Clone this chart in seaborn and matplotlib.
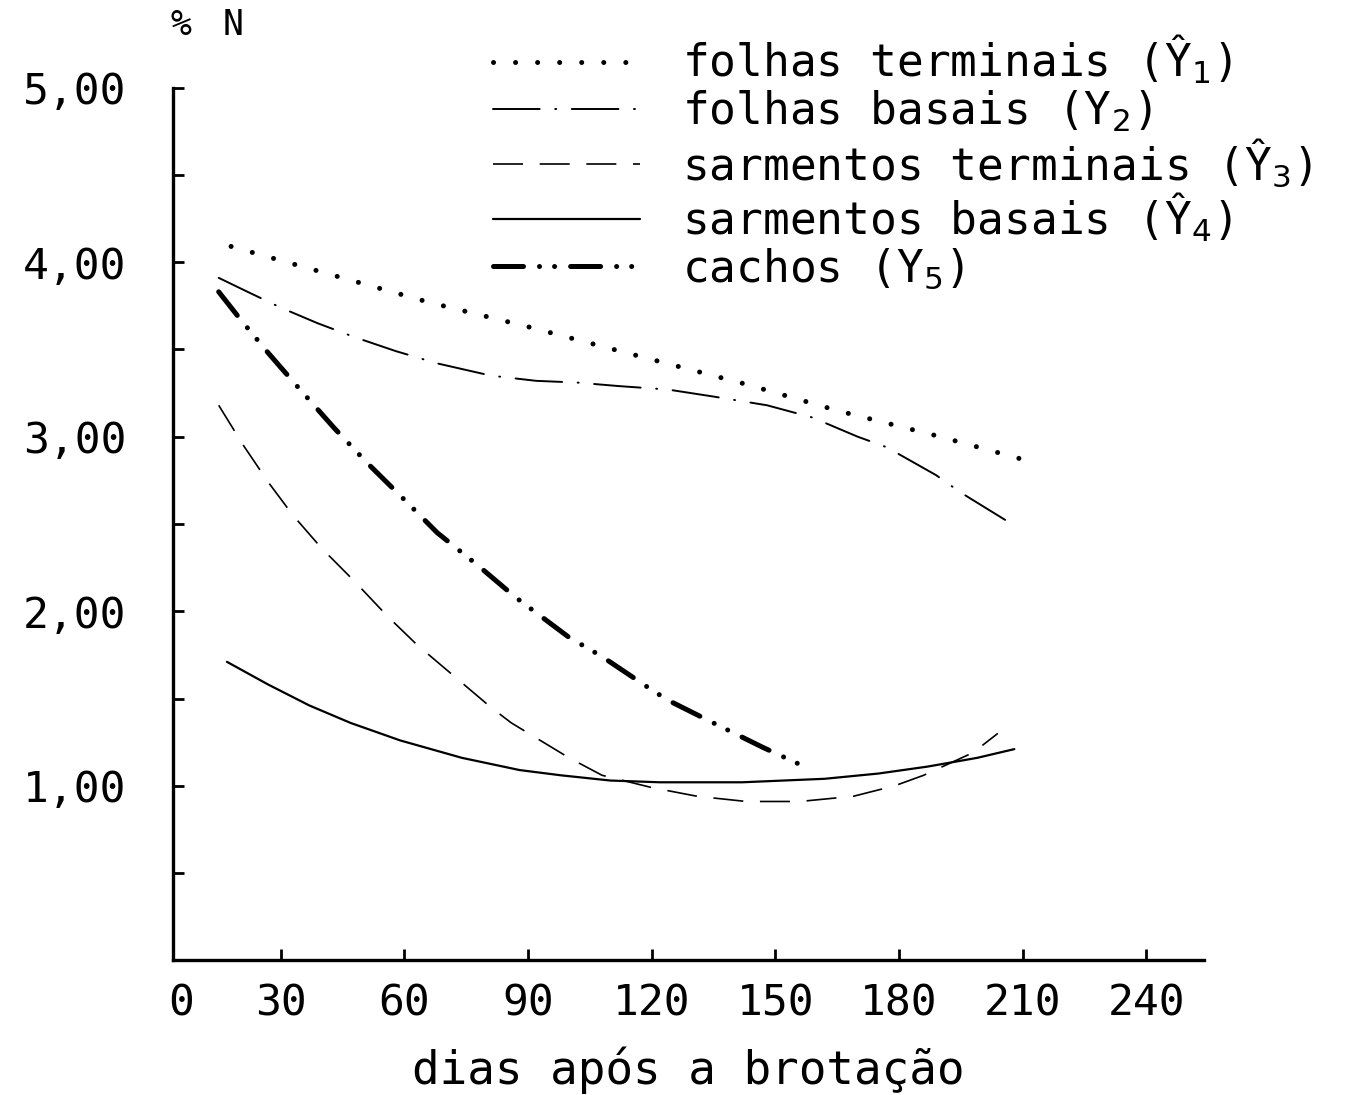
import matplotlib

matplotlib.use("Agg")

import matplotlib.pyplot as plt  # noqa: E402
import matplotlib.transforms as mtransforms  # noqa: E402
import pandas as pd  # noqa: E402
import seaborn as sns  # noqa: E402

# curve readings (dias, % N)
y1_dias = [18, 42, 66, 90, 114, 143, 165, 190, 210]
y1_n = [4.09, 3.93, 3.77, 3.63, 3.48, 3.30, 3.15, 3.00, 2.87]

y2_dias = [15, 22, 30, 39, 48, 58, 68, 81, 92, 102, 112, 124, 135, 148,
           159, 170, 177, 189, 195, 206]
y2_n = [3.91, 3.83, 3.74, 3.65, 3.57, 3.49, 3.42, 3.35, 3.32, 3.31, 3.29,
        3.27, 3.23, 3.18, 3.11, 3.00, 2.94, 2.78, 2.68, 2.52]

y3_dias = [15, 21, 27, 33, 40, 48, 56, 63, 72, 81, 86, 93, 100, 108, 120,
           131, 143, 156, 169, 179, 186, 198, 204]
y3_n = [3.18, 2.95, 2.74, 2.55, 2.36, 2.17, 1.97, 1.81, 1.63, 1.45, 1.36,
        1.26, 1.16, 1.06, 0.99, 0.94, 0.91, 0.91, 0.94, 1.00, 1.06, 1.19,
        1.30]

y4_dias = [17, 27, 37, 47, 59, 74, 88, 98, 110, 122, 142, 162, 175, 187,
           199, 208]
y4_n = [1.71, 1.58, 1.46, 1.36, 1.26, 1.16, 1.09, 1.06, 1.03, 1.02, 1.02,
        1.04, 1.07, 1.11, 1.16, 1.21]

y5_dias = [15, 20, 27, 34, 43, 51, 60, 68, 78, 87, 100, 108, 120, 124, 135,
           147, 158]
y5_n = [3.83, 3.68, 3.48, 3.29, 3.05, 2.85, 2.64, 2.45, 2.26, 2.08, 1.85,
        1.74, 1.55, 1.49, 1.36, 1.22, 1.10]

labels = [
    "folhas terminais (Ŷ$_1$)",
    "folhas basais (Y$_2$)",
    "sarmentos terminais (Ŷ$_3$)",
    "sarmentos basais (Ŷ$_4$)",
    "cachos (Y$_5$)",
]
x_ticks = [30, 60, 90, 120, 150, 180, 210, 240]
y_ticks = [1, 2, 3, 4, 5]

sns.set_theme(style="white")
plt.rcParams["font.family"] = ["DejaVu Sans Mono", "DejaVu Sans"]
plt.rcParams["text.color"] = "black"
plt.rcParams["axes.labelcolor"] = "black"

fig = plt.figure(figsize=(13.65, 10.95), dpi=100)
ax = fig.add_axes([0.127, 0.123, 0.755, 0.797])

styles = [
    dict(lw=3.6, linestyle=(0, (0.01, 4.4)), dash_capstyle="round"),
    dict(lw=1.4, linestyle=(0, (24, 8, 0.5, 8)), dash_capstyle="round"),
    dict(lw=1.2, linestyle=(0, (18, 10)), dash_capstyle="butt"),
    dict(lw=1.6, linestyle="-"),
    dict(lw=3.6, linestyle=(0, (6, 3.2, 0.01, 3.0, 0.01, 3.2)),
         dash_capstyle="round"),
]
series = [(y1_dias, y1_n), (y2_dias, y2_n), (y3_dias, y3_n),
          (y4_dias, y4_n), (y5_dias, y5_n)]

handles = []
for (dias, n), lab, st in zip(series, labels, styles):
    df = pd.DataFrame({"dias": dias, "n": n})
    sns.lineplot(data=df, x="dias", y="n", ax=ax, color="black",
                 estimator=None, sort=False, **st)
    line = ax.lines[-1]
    line.set_label(lab)
    handles.append(line)

ax.set_xlim(4, 254)
ax.set_ylim(0, 5.0)

ax.set_xticks(x_ticks)
ax.set_xticklabels([str(v) for v in x_ticks])
ax.set_yticks(y_ticks)
ax.set_yticklabels([f"{v},00" for v in y_ticks])
ax.set_yticks([0.5, 1.5, 2.5, 3.5, 4.5], minor=True)

ax.tick_params(axis="both", which="both", direction="in", length=8,
               width=2, color="black", labelsize=31, labelcolor="black")
ax.tick_params(axis="x", pad=16, bottom=True)
ax.tick_params(axis="y", pad=34, left=True)
ax.tick_params(axis="y", which="minor", left=True)

# "0" at the origin of the day axis, aligned with the other tick labels
trans = mtransforms.blended_transform_factory(ax.transData, ax.transAxes)
trans = trans + mtransforms.ScaledTranslation(0, -16 / 72, fig.dpi_scale_trans)
ax.text(6, 0, "0", transform=trans, fontsize=31, ha="center", va="top")

for side in ["top", "right"]:
    ax.spines[side].set_visible(False)
for side in ["left", "bottom"]:
    ax.spines[side].set_linewidth(2.4)
    ax.spines[side].set_color("black")

ax.set_xlabel("dias após a brotação", fontsize=33, labelpad=16)
ax.set_ylabel("")

fig.text(0.125, 0.977, "%", fontsize=25, ha="left", va="center")
fig.text(0.163, 0.977, "N", fontsize=25, ha="left", va="center")

ax.legend(handles=handles, loc="upper left", bbox_to_anchor=(0.345, 0.99),
          bbox_transform=fig.transFigure, frameon=False, fontsize=32,
          handlelength=3.3, handletextpad=0.95, labelspacing=0.05,
          borderpad=0)

fig.savefig("out.png", dpi=100, facecolor="white")
